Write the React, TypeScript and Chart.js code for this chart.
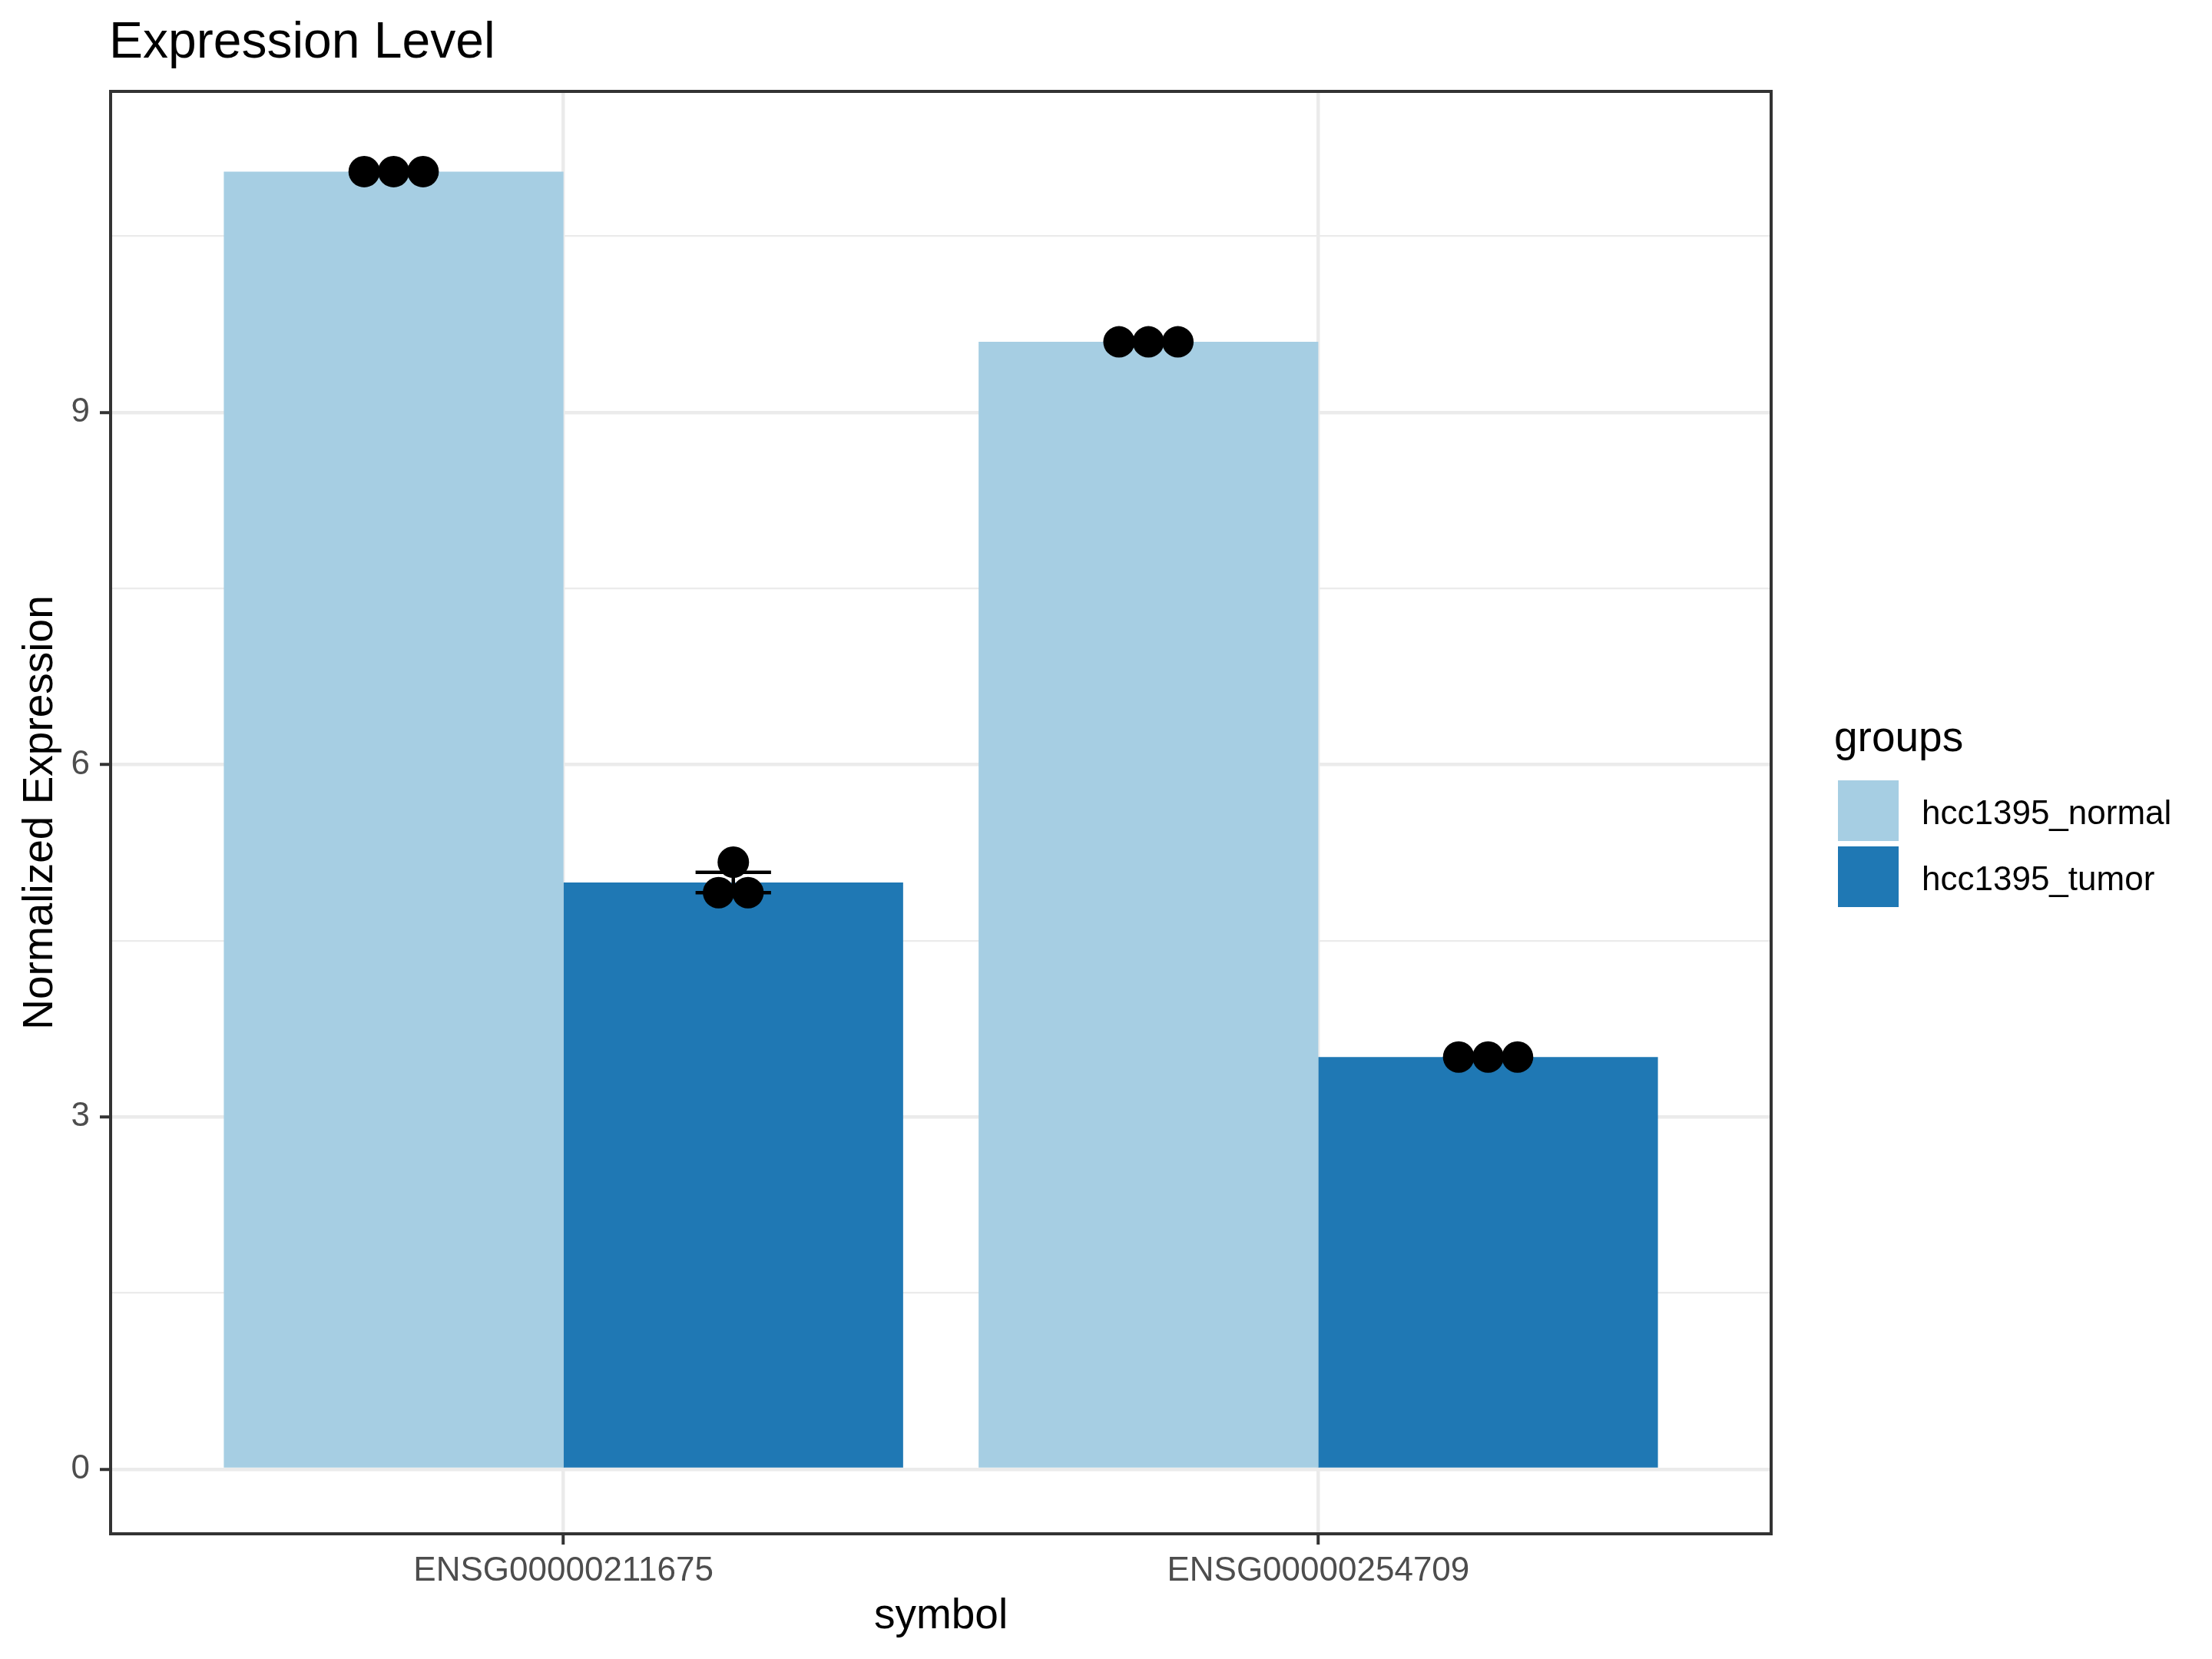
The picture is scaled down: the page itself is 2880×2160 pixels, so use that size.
import { useEffect, useRef } from "react";
import { Chart, registerables } from "chart.js";

Chart.register(...registerables);

const genes = ["ENSG00000211675", "ENSG00000254709"];
const groups = ["hcc1395_normal", "hcc1395_tumor"];
const groupColors = ["#A6CEE3", "#1F78B4"];
// replicate values per gene (one list per gene)
const normalValues = [
  [11.05, 11.05, 11.05],
  [9.6, 9.6, 9.6],
];
const tumorValues = [
  [5.17, 4.91, 4.91],
  [3.51, 3.51, 3.51],
];
const yMajorTicks = [0, 3, 6, 9];
const yMinorTicks = [1.5, 4.5, 7.5, 10.5];

const FONT = "'Liberation Sans', Arial, Helvetica, sans-serif";
const DODGE = 0.9;
const DOT_STEP = 0.039;
const BIN = 0.1;
const ERR_HALF = 0.05;

const allValues = [normalValues, tumorValues];

const mean = (a: number[]) => a.reduce((s, v) => s + v, 0) / a.length;
const stdErr = (a: number[]) => {
  const m = mean(a);
  const sd = Math.sqrt(a.reduce((s, v) => s + (v - m) ** 2, 0) / (a.length - 1));
  return sd / Math.sqrt(a.length);
};
const groupOffset = (j: number) => (j - (groups.length - 1) / 2) * (DODGE / groups.length);

// centred dot stacks like geom_dotplot(binaxis = "y", stackdir = "center")
function dotPoints(values: number[], center: number) {
  const bins = new Map<number, number[]>();
  values.forEach((v) => {
    const k = Math.round(v / BIN);
    bins.set(k, [...(bins.get(k) ?? []), v]);
  });
  const pts: { x: number; y: number }[] = [];
  bins.forEach((vs) => {
    const y = mean(vs);
    vs.forEach((_, i) => pts.push({ x: center + (i - (vs.length - 1) / 2) * DOT_STEP, y }));
  });
  return pts;
}

const errorBarPlugin = {
  id: "errorBars",
  beforeDatasetDraw(chart: any, args: any) {
    if (args.index !== groups.length) return;
    const { ctx, scales } = chart;
    const { x, y } = scales;
    ctx.save();
    ctx.strokeStyle = "#000000";
    ctx.lineWidth = 4.5;
    allValues.forEach((byGene, j) =>
      byGene.forEach((vals, i) => {
        const c = i + 1 + groupOffset(j);
        const m = mean(vals);
        const e = stdErr(vals);
        const x0 = x.getPixelForValue(c - ERR_HALF);
        const x1 = x.getPixelForValue(c + ERR_HALF);
        const xc = x.getPixelForValue(c);
        const yt = y.getPixelForValue(m + e);
        const yb = y.getPixelForValue(m - e);
        ctx.beginPath();
        ctx.moveTo(x0, yt);
        ctx.lineTo(x1, yt);
        ctx.moveTo(xc, yt);
        ctx.lineTo(xc, yb);
        ctx.moveTo(x0, yb);
        ctx.lineTo(x1, yb);
        ctx.stroke();
      })
    );
    ctx.restore();
  },
};

const decorPlugin = {
  id: "decor",
  afterDraw(chart: any) {
    const { ctx, chartArea } = chart;
    const { left, right, top, bottom } = chartArea;
    ctx.save();
    // panel border
    ctx.strokeStyle = "#333333";
    ctx.lineWidth = 4;
    ctx.strokeRect(left, top, right - left, bottom - top);

    ctx.fillStyle = "#000000";
    ctx.textBaseline = "alphabetic";

    // plot title
    ctx.font = `66px ${FONT}`;
    ctx.textAlign = "left";
    ctx.fillText("Expression Level", 142, 75);

    // axis titles
    ctx.font = `55px ${FONT}`;
    ctx.textAlign = "center";
    ctx.fillText("symbol", (left + right) / 2, 2120);
    ctx.save();
    ctx.translate(68, (top + bottom) / 2);
    ctx.rotate(-Math.PI / 2);
    ctx.fillText("Normalized Expression", 0, 0);
    ctx.restore();

    // legend
    ctx.textAlign = "left";
    ctx.font = `55px ${FONT}`;
    ctx.fillText("groups", 2388, 978);
    ctx.font = `44px ${FONT}`;
    groups.forEach((g, j) => {
      const y0 = 1016 + j * 86;
      ctx.fillStyle = groupColors[j];
      ctx.fillRect(2393, y0, 79, 79);
      ctx.fillStyle = "#000000";
      ctx.fillText(g, 2502, y0 + 57);
    });
    ctx.restore();
  },
};

export default function App() {
  const canvasRef = useRef<HTMLCanvasElement | null>(null);
  const chartRef = useRef<Chart | null>(null);

  useEffect(() => {
    document.body.style.margin = "0";
    if (!canvasRef.current) return;
    const ctx = canvasRef.current.getContext("2d");
    if (!ctx) return;
    if (chartRef.current) chartRef.current.destroy();

    const dots = allValues.flatMap((byGene, j) =>
      byGene.flatMap((vals, i) => dotPoints(vals, i + 1 + groupOffset(j)))
    );

    chartRef.current = new Chart(ctx, {
      type: "bar",
      data: {
        datasets: [
          ...groups.map((g, j) => ({
            type: "bar" as const,
            label: g,
            data: genes.map((_, i) => ({ x: i + 1, y: mean(allValues[j][i]) })),
            backgroundColor: groupColors[j],
            borderWidth: 0,
            categoryPercentage: DODGE,
            barPercentage: 1,
            order: 2,
          })),
          {
            type: "scatter" as const,
            label: "samples",
            data: dots,
            pointRadius: 20.5,
            pointHoverRadius: 20.5,
            pointBackgroundColor: "#000000",
            pointBorderWidth: 0,
            order: 0,
          },
        ] as any,
      },
      options: {
        responsive: false,
        animation: false,
        layout: { padding: { top: 119, right: 574, bottom: 0, left: 0 } },
        plugins: {
          legend: { display: false },
          tooltip: { enabled: false },
          title: { display: false },
        },
        scales: {
          x: {
            type: "linear",
            min: 0.4,
            max: 2.6,
            offset: false,
            afterBuildTicks: (s: any) => {
              s.ticks = genes.map((_, i) => ({ value: i + 1 }));
            },
            afterFit: (s: any) => {
              s.height = 163;
            },
            grid: {
              offset: false,
              color: "#EBEBEB",
              lineWidth: 4.5,
              tickColor: "#333333",
              tickLength: 14,
              tickWidth: 4,
            },
            border: { display: false },
            ticks: {
              font: { family: FONT, size: 44 },
              color: "#4D4D4D",
              padding: 8,
              maxRotation: 0,
              autoSkip: false,
              callback: (v: any) => genes[Number(v) - 1] ?? "",
            },
          },
          y: {
            type: "linear",
            min: -0.55,
            max: 11.733,
            afterBuildTicks: (s: any) => {
              s.ticks = [...yMajorTicks, ...yMinorTicks]
                .sort((a, b) => a - b)
                .map((v) => ({ value: v }));
            },
            afterFit: (s: any) => {
              s.width = 144;
            },
            grid: {
              color: "#EBEBEB",
              lineWidth: (c: any) => (yMajorTicks.includes(c.tick?.value) ? 4.5 : 2.2),
              tickColor: (c: any) =>
                yMajorTicks.includes(c.tick?.value) ? "#333333" : "rgba(0,0,0,0)",
              tickLength: 14,
              tickWidth: 4,
            },
            border: { display: false },
            ticks: {
              font: { family: FONT, size: 44 },
              color: "#4D4D4D",
              padding: 13,
              autoSkip: false,
              callback: (v: any) => (yMajorTicks.includes(Number(v)) ? String(v) : ""),
            },
          },
        },
      } as any,
      plugins: [errorBarPlugin, decorPlugin],
    });

    return () => chartRef.current?.destroy();
  }, []);

  return (
    <div style={{ width: 2880, height: 2160, background: "#ffffff" }}>
      <canvas ref={canvasRef} width={2880} height={2160} />
    </div>
  );
}
